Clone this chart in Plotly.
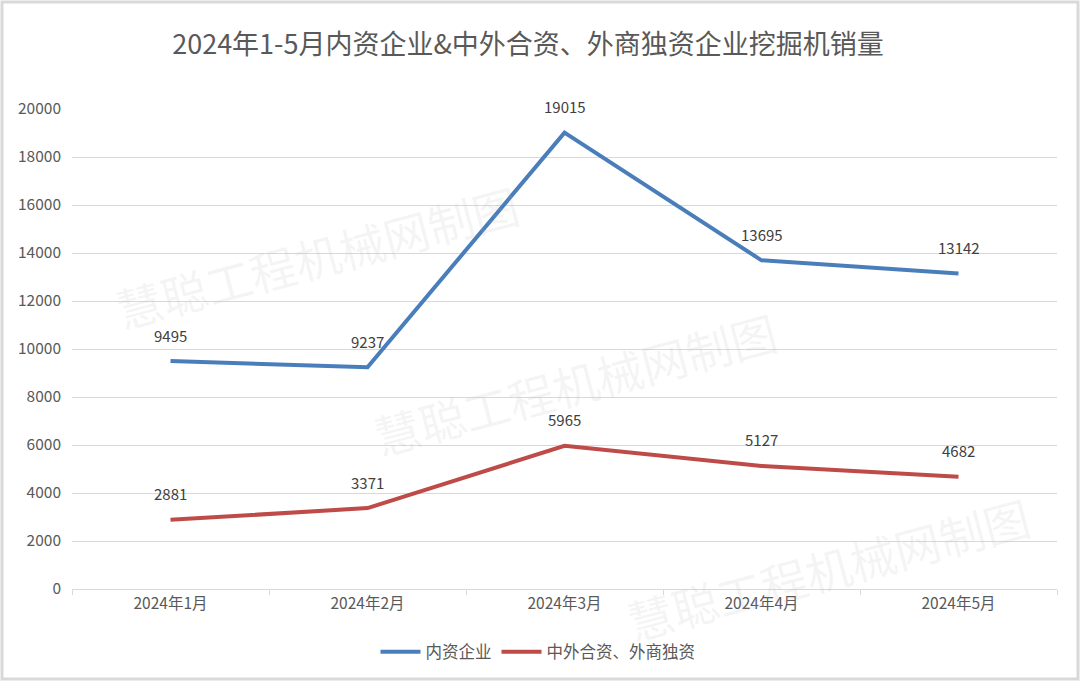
import plotly.graph_objects as go

months = ["2024年1月", "2024年2月", "2024年3月", "2024年4月", "2024年5月"]
domestic = [9495, 9237, 19015, 13695, 13142]
foreign = [2881, 3371, 5965, 5127, 4682]
series_names = ["内资企业", "中外合资、外商独资"]
title = "2024年1-5月内资企业&中外合资、外商独资企业挖掘机销量"
watermark = "慧聪工程机械网制图"

FONT = "Noto Sans CJK SC, Microsoft YaHei, sans-serif"
BLUE = "#4a7ebb"
RED = "#be4b48"

fig = go.Figure()
fig.add_trace(go.Scatter(x=months, y=domestic, mode="lines", name=series_names[0],
                         line=dict(color=BLUE, width=4)))
fig.add_trace(go.Scatter(x=months, y=foreign, mode="lines", name=series_names[1],
                         line=dict(color=RED, width=4)))

annotations = []
for ys in (domestic, foreign):
    for m, v in zip(months, ys):
        annotations.append(dict(x=m, y=v, xref="x", yref="y", text=str(v), showarrow=False,
                                yshift=26, font=dict(family=FONT, size=15, color="#404040")))

# faint watermarks
for (wx, wy) in [(0.249, 0.694), (0.511, 0.429), (0.768, 0.044)]:
    annotations.append(dict(x=wx, y=wy, xref="paper", yref="paper", text=watermark,
                            showarrow=False, textangle=-15, xanchor="center", yanchor="middle",
                            font=dict(family=FONT, size=46, color="rgba(170,170,170,0.13)")))

L, R, T, B = 72, 23, 109, 92
W, H = 1080, 681
pw, ph = W - L - R, H - T - B

fig.update_layout(
    width=W, height=H,
    margin=dict(l=L, r=R, t=T, b=B),
    paper_bgcolor="white", plot_bgcolor="white",
    title=dict(text=title, xref="container", x=528 / W, xanchor="center", y=1 - 45 / H, yanchor="middle",
               font=dict(family=FONT, size=27, color="#595959")),
    font=dict(family=FONT, color="#595959"),
    xaxis=dict(type="category", range=[-0.5, 4.5], showgrid=False,
               showline=True, linecolor="#d9d9d9", linewidth=1,
               ticks="outside", tickson="boundaries", ticklen=5, tickcolor="#d9d9d9",
               tickfont=dict(family=FONT, size=15.5, color="#595959")),
    yaxis=dict(range=[0, 20000], dtick=2000, tickformat="d", showgrid=True, gridcolor="#d9d9d9", gridwidth=1,
               zeroline=False, showline=False, ticklabelstandoff=10,
               tickfont=dict(family=FONT, size=15.5, color="#595959")),
    legend=dict(orientation="h", x=(538 - L) / pw, xanchor="center", y=-(652 - 589) / ph, yanchor="middle",
                font=dict(family=FONT, size=16.5, color="#595959"), itemwidth=40),
    annotations=annotations,
    shapes=[dict(type="rect", xref="paper", yref="paper",
                 x0=-(L - 2) / pw, x1=1 + (R - 2) / pw, y0=-(B - 2) / ph, y1=1 + (T - 2) / ph,
                 line=dict(color="#d9d9d9", width=3))],
)

fig.write_html("out.html")
